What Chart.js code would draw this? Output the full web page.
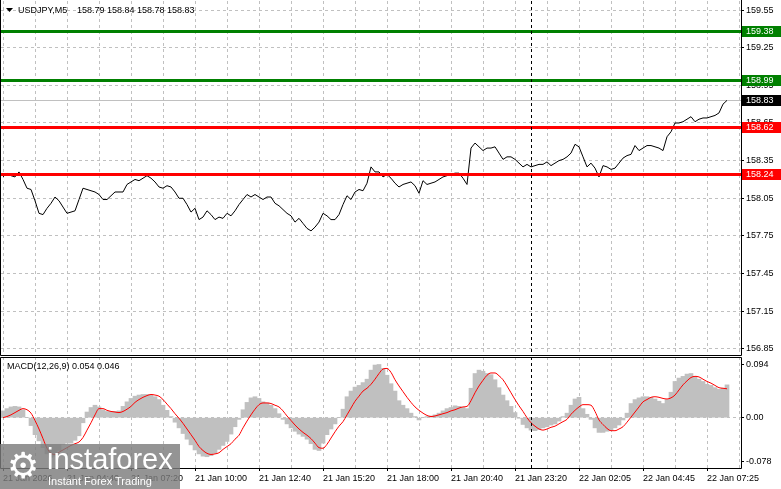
<!DOCTYPE html>
<html>
<head>
<meta charset="utf-8">
<title>USDJPY M5</title>
<script src="https://cdn.jsdelivr.net/npm/chart.js@4.4.1/dist/chart.umd.min.js"></script>
<style>
    body { margin: 0; background: #fff; }
    #wrap { position: relative; width: 781px; height: 489px; overflow: hidden; background: #fff; }
    canvas { position: absolute; left: 0; }
    #priceChart { top: 0; }
    #macdChart { top: 356px; }
    #logo {
        position: absolute; left: 0; top: 444px; width: 180px; height: 45px;
        background: rgba(125, 125, 125, 0.82); color: #fff;
        font-family: 'Liberation Sans', sans-serif;
    }
    #logo .gear { position: absolute; left: 7px; top: 0px; font: 36px 'DejaVu Sans', sans-serif; line-height: 44px; }
    #logo .name { position: absolute; left: 47px; top: 0px; font-size: 29px; line-height: 30px; }
    #logo .slogan { position: absolute; left: 48px; top: 31px; font-size: 11px; line-height: 12px; }
</style>
</head>
<body>
<div id="wrap">
    <canvas id="priceChart" width="781" height="356"></canvas>
    <canvas id="macdChart" width="781" height="133"></canvas>
    <div id="logo"><span class="gear">⚙</span><span class="name">instaforex</span><span class="slogan">Instant Forex Trading</span></div>
</div>
<script>
// one value per 10 minutes, starting 21 Jan 02:00
const closes = [
    158.22, 158.25, 158.23, 158.22, 158.26, 158.20, 158.13, 158.12, 158.03, 157.93,
    157.92, 157.97, 158.01, 158.06, 158.03, 157.98, 157.93, 157.94, 157.95, 158.04,
    158.13, 158.12, 158.11, 158.10, 158.08, 158.04, 158.04, 158.07, 158.10, 158.10,
    158.10, 158.16, 158.18, 158.20, 158.19, 158.21, 158.23, 158.21, 158.18, 158.14,
    158.13, 158.15, 158.14, 158.10, 158.05, 158.05, 158.00, 157.94, 157.97, 157.88,
    157.90, 157.95, 157.92, 157.88, 157.90, 157.89, 157.93, 157.91, 157.95, 158.00,
    158.04, 158.08, 158.06, 158.08, 158.06, 158.04, 158.06, 158.06, 158.01, 157.99,
    157.96, 157.93, 157.91, 157.86, 157.89, 157.85, 157.81, 157.79, 157.82, 157.86,
    157.93, 157.91, 157.88, 157.88, 157.92, 158.00, 158.07, 158.04, 158.10, 158.12,
    158.11, 158.17, 158.30, 158.26, 158.26, 158.22, 158.24, 158.21, 158.17, 158.14,
    158.16, 158.17, 158.18, 158.15, 158.09, 158.19, 158.16, 158.17, 158.18, 158.20,
    158.22, 158.23, 158.24, 158.25, 158.25, 158.21, 158.16, 158.45, 158.49, 158.46,
    158.43, 158.45, 158.45, 158.46, 158.41, 158.36, 158.38, 158.38, 158.36, 158.33,
    158.30, 158.32, 158.30, 158.31, 158.32, 158.32, 158.34, 158.31, 158.33, 158.35,
    158.36, 158.38, 158.41, 158.48, 158.46, 158.38, 158.30, 158.33, 158.29, 158.22,
    158.31, 158.30, 158.28, 158.29, 158.33, 158.37, 158.39, 158.40, 158.47, 158.43,
    158.45, 158.47, 158.47, 158.46, 158.45, 158.43, 158.54, 158.58, 158.65, 158.65,
    158.66, 158.68, 158.70, 158.66, 158.68, 158.69, 158.69, 158.70, 158.71, 158.73,
    158.80, 158.83
];

const macdHist = [
    0.012, 0.016, 0.019, 0.020, 0.019, 0.014, 0.000, -0.014, -0.030, -0.041,
    -0.053, -0.064, -0.070, -0.068, -0.058, -0.047, -0.045, -0.045, -0.040, -0.032,
    -0.009, 0.010, 0.018, 0.022, 0.019, 0.014, 0.011, 0.011, 0.011, 0.012,
    0.020, 0.028, 0.034, 0.038, 0.040, 0.041, 0.041, 0.040, 0.037, 0.032,
    0.022, 0.013, 0.002, -0.008, -0.018, -0.028, -0.038, -0.048, -0.057, -0.064,
    -0.068, -0.069, -0.067, -0.063, -0.056, -0.049, -0.042, -0.029, -0.016, -0.003,
    0.014, 0.027, 0.035, 0.037, 0.034, 0.028, 0.026, 0.022, 0.016, 0.007,
    -0.003, -0.011, -0.018, -0.024, -0.029, -0.033, -0.038, -0.046, -0.056, -0.058,
    -0.045, -0.030, -0.020, -0.011, 0.000, 0.015, 0.037, 0.047, 0.054, 0.057,
    0.062, 0.068, 0.084, 0.093, 0.094, 0.087, 0.075, 0.060, 0.047, 0.030,
    0.022, 0.016, 0.008, 0.002, -0.004, 0.000, 0.002, 0.003, 0.005, 0.008,
    0.012, 0.016, 0.018, 0.021, 0.020, 0.018, 0.016, 0.052, 0.078, 0.084,
    0.082, 0.078, 0.076, 0.067, 0.053, 0.040, 0.030, 0.020, 0.009, -0.001,
    -0.012, -0.018, -0.022, -0.023, -0.021, -0.018, -0.016, -0.013, -0.011, -0.006,
    0.002, 0.008, 0.022, 0.033, 0.036, 0.016, 0.006, -0.003, -0.018, -0.026,
    -0.026, -0.024, -0.022, -0.018, -0.013, -0.004, 0.008, 0.025, 0.032, 0.035,
    0.037, 0.037, 0.036, 0.033, 0.029, 0.025, 0.032, 0.045, 0.064, 0.070,
    0.073, 0.077, 0.078, 0.073, 0.068, 0.064, 0.059, 0.057, 0.053, 0.050,
    0.052, 0.058
];

const macdSignal = [
    0.000, 0.002, 0.005, 0.009, 0.013, 0.016, 0.014, 0.008, -0.005, -0.020,
    -0.037, -0.054, -0.063, -0.065, -0.061, -0.057, -0.053, -0.049, -0.046, -0.043,
    -0.035, -0.022, -0.009, 0.005, 0.016, 0.016, 0.013, 0.011, 0.010, 0.009,
    0.011, 0.015, 0.020, 0.027, 0.032, 0.036, 0.039, 0.041, 0.040, 0.038,
    0.032, 0.024, 0.016, 0.007, -0.001, -0.010, -0.020, -0.030, -0.040, -0.051,
    -0.058, -0.063, -0.065, -0.064, -0.062, -0.056, -0.051, -0.046, -0.038, -0.031,
    -0.018, -0.006, 0.005, 0.015, 0.023, 0.026, 0.026, 0.025, 0.022, 0.019,
    0.012, 0.003, -0.005, -0.013, -0.020, -0.026, -0.031, -0.037, -0.045, -0.053,
    -0.054, -0.047, -0.036, -0.025, -0.015, -0.007, 0.005, 0.017, 0.029, 0.038,
    0.047, 0.052, 0.059, 0.068, 0.078, 0.086, 0.087, 0.080, 0.067, 0.056,
    0.046, 0.036, 0.027, 0.019, 0.013, 0.008, 0.004, 0.002, 0.003, 0.005,
    0.007, 0.009, 0.012, 0.014, 0.017, 0.019, 0.020, 0.030, 0.044, 0.056,
    0.066, 0.075, 0.079, 0.079, 0.074, 0.067, 0.056, 0.044, 0.032, 0.021,
    0.011, 0.000, -0.009, -0.015, -0.020, -0.022, -0.020, -0.017, -0.015, -0.011,
    -0.007, -0.003, 0.006, 0.013, 0.019, 0.023, 0.023, 0.022, 0.011, -0.004,
    -0.012, -0.019, -0.023, -0.023, -0.020, -0.016, -0.008, 0.001, 0.010, 0.019,
    0.028, 0.032, 0.036, 0.037, 0.036, 0.034, 0.033, 0.035, 0.040, 0.049,
    0.058, 0.065, 0.071, 0.073, 0.072, 0.068, 0.064, 0.061, 0.057, 0.053,
    0.052, 0.051
];

const timeLabels = [
    '21 Jan 2026', '21 Jan 04:40', '21 Jan 07:20', '21 Jan 10:00', '21 Jan 12:40', '21 Jan 15:20',
    '21 Jan 18:00', '21 Jan 20:40', '21 Jan 23:20', '22 Jan 02:05', '22 Jan 04:45', '22 Jan 07:25'
];
const priceTicks = [159.55, 159.25, 158.95, 158.65, 158.35, 158.05, 157.75, 157.45, 157.15, 156.85];
const macdTicks = [0.094, 0, -0.078];
const greenLevels = [159.38, 158.99];
const redLevels = [158.62, 158.24];
const bidPrice = 158.83;
const dayBreak = 132; // 22 Jan 00:00
const header = ['USDJPY,M5', '158.79 158.84 158.78 158.83'];
const macdTitle = 'MACD(12,26,9) 0.054 0.046';

const FONT = '9px "Liberation Sans", Arial, sans-serif';
const GRID = '#c0c0c0';
const X_MIN = -0.5;
const X_MAX = 184.5;

Chart.defaults.font.family = '"Liberation Sans", Arial, sans-serif';
Chart.defaults.font.size = 9;
Chart.defaults.color = '#000';

// keep chart areas identical in both canvases: no label overhang padding
function noPadding(scale) {
    scale.paddingTop = 0;
    scale.paddingBottom = 0;
    scale.paddingLeft = 0;
    scale.paddingRight = 0;
}

function drawTag(ctx, y, text, fill) {
    const yy = Math.round(y);
    ctx.fillStyle = fill;
    ctx.fillRect(742, yy - 5, 39, 11);
    ctx.fillStyle = '#fff';
    ctx.font = FONT;
    ctx.textAlign = 'left';
    ctx.textBaseline = 'middle';
    ctx.fillText(text, 746, yy + 0.5);
}

function drawDayBreak(chart) {
    const ctx = chart.ctx;
    const area = chart.chartArea;
    const x = Math.round(chart.scales.x.getPixelForValue(dayBreak)) + 0.5;
    ctx.save();
    ctx.strokeStyle = '#000';
    ctx.lineWidth = 1;
    ctx.setLineDash([3, 3]);
    ctx.beginPath();
    ctx.moveTo(x, area.top);
    ctx.lineTo(x, area.bottom);
    ctx.stroke();
    ctx.restore();
}

function drawFrame(chart, withTop) {
    const ctx = chart.ctx;
    const a = chart.chartArea;
    ctx.save();
    ctx.strokeStyle = '#000';
    ctx.lineWidth = 1;
    ctx.beginPath();
    ctx.moveTo(0.5, withTop ? a.top + 0.5 : 0);
    ctx.lineTo(0.5, a.bottom + 0.5);
    ctx.lineTo(a.right + 0.5, a.bottom + 0.5);
    ctx.lineTo(a.right + 0.5, withTop ? a.top + 0.5 : 0);
    if (withTop) ctx.closePath();
    ctx.stroke();
    ctx.restore();
}

const pricePlugin = {
    id: 'priceExtras',
    beforeDatasetsDraw(chart) {
        const ctx = chart.ctx;
        const a = chart.chartArea;
        const y = Math.round(chart.scales.y.getPixelForValue(bidPrice)) + 0.5;
        ctx.save();
        ctx.strokeStyle = '#c0c0c0';
        ctx.lineWidth = 1;
        ctx.beginPath();
        ctx.moveTo(a.left, y);
        ctx.lineTo(a.right, y);
        ctx.stroke();
        ctx.restore();
    },
    afterDatasetsDraw(chart) {
        const ctx = chart.ctx;
        const a = chart.chartArea;
        const yScale = chart.scales.y;
        ctx.save();
        greenLevels.forEach(v => {
            ctx.fillStyle = '#008000';
            ctx.fillRect(a.left, Math.round(yScale.getPixelForValue(v)) - 1, a.right - a.left, 3);
        });
        redLevels.forEach(v => {
            ctx.fillStyle = '#ff0000';
            ctx.fillRect(a.left, Math.round(yScale.getPixelForValue(v)) - 1, a.right - a.left, 3);
        });
        ctx.restore();
        drawDayBreak(chart);
    },
    afterDraw(chart) {
        const ctx = chart.ctx;
        const yScale = chart.scales.y;
        ctx.save();
        greenLevels.forEach(v => drawTag(ctx, yScale.getPixelForValue(v), v.toFixed(2), '#008000'));
        redLevels.forEach(v => drawTag(ctx, yScale.getPixelForValue(v), v.toFixed(2), '#ff0000'));
        drawTag(ctx, yScale.getPixelForValue(bidPrice), bidPrice.toFixed(2), '#000');

        // symbol header
        ctx.fillStyle = '#000';
        ctx.beginPath();
        ctx.moveTo(6, 8);
        ctx.lineTo(13, 8);
        ctx.lineTo(9.5, 12);
        ctx.closePath();
        ctx.fill();
        ctx.font = FONT;
        ctx.textAlign = 'left';
        ctx.textBaseline = 'middle';
        ctx.fillText(header[0], 18, 11);
        ctx.fillText(header[1], 77, 11);
        ctx.restore();
        drawFrame(chart, false);
    }
};

const macdPlugin = {
    id: 'macdExtras',
    afterDatasetsDraw(chart) {
        drawDayBreak(chart);
    },
    afterDraw(chart) {
        const ctx = chart.ctx;
        ctx.save();
        ctx.fillStyle = '#000';
        ctx.font = FONT;
        ctx.textAlign = 'left';
        ctx.textBaseline = 'middle';
        ctx.fillText(macdTitle, 7, 11);
        ctx.restore();
        drawFrame(chart, true);
    }
};

function xScaleOptions(showLabels) {
    return {
        type: 'linear',
        min: X_MIN,
        max: X_MAX,
        offset: false,
        afterBuildTicks: scale => {
            const t = [];
            for (let i = 0; i < timeLabels.length * 16; i += 8) t.push({ value: i });
            scale.ticks = t;
        },
        afterFit: scale => {
            scale.height = showLabels ? 21 : 0;
            noPadding(scale);
        },
        border: { display: false, dash: [3, 3] },
        grid: {
            offset: false,
            color: GRID,
            lineWidth: 1,
            drawTicks: showLabels,
            tickLength: 3,
            tickBorderDash: [],
            tickColor: ctx => (ctx.tick && ctx.tick.value % 16 === 0) ? '#000' : 'rgba(0,0,0,0)'
        },
        ticks: {
            display: showLabels,
            autoSkip: false,
            maxRotation: 0,
            align: 'start',
            padding: 2,
            font: { size: 9 },
            callback: v => (v % 16 === 0) ? timeLabels[v / 16] : ''
        }
    };
}

function initCharts() {
    const priceCtx = document.getElementById('priceChart').getContext('2d');
    const macdCtx = document.getElementById('macdChart').getContext('2d');

    new Chart(priceCtx, {
        type: 'line',
        data: {
            datasets: [{
                data: closes.map((v, i) => ({ x: i, y: v })),
                borderColor: '#000',
                borderWidth: 1,
                pointRadius: 0,
                tension: 0
            }]
        },
        options: {
            responsive: false,
            animation: false,
            events: [],
            layout: { padding: { left: 1, top: 1, right: 0, bottom: 1 } },
            plugins: { legend: { display: false }, tooltip: { enabled: false } },
            scales: {
                x: xScaleOptions(false),
                y: {
                    position: 'right',
                    min: 156.801,
                    max: 159.622,
                    afterBuildTicks: scale => { scale.ticks = priceTicks.map(v => ({ value: v })); },
                    afterFit: scale => {
                        scale.width = 40;
                        noPadding(scale);
                    },
                    border: { display: false, dash: [3, 3] },
                    grid: { color: GRID, tickLength: 3, tickColor: '#000', tickBorderDash: [] },
                    ticks: { padding: 2, autoSkip: false, callback: v => v.toFixed(2) }
                }
            }
        },
        plugins: [pricePlugin]
    });

    new Chart(macdCtx, {
        type: 'bar',
        data: {
            datasets: [{
                type: 'line',
                data: macdSignal.map((v, i) => ({ x: i, y: v })),
                borderColor: '#ff0000',
                borderWidth: 1,
                pointRadius: 0,
                cubicInterpolationMode: 'monotone',
                order: 1
            }, {
                type: 'bar',
                data: macdHist.map((v, i) => ({ x: i, y: v })),
                backgroundColor: '#c0c0c0',
                borderWidth: 0,
                barPercentage: 1,
                categoryPercentage: 1,
                order: 2
            }]
        },
        options: {
            responsive: false,
            animation: false,
            events: [],
            layout: { padding: { left: 1, top: 1, right: 0, bottom: 0 } },
            plugins: { legend: { display: false }, tooltip: { enabled: false } },
            scales: {
                x: xScaleOptions(true),
                y: {
                    position: 'right',
                    min: -0.0889,
                    max: 0.1072,
                    afterBuildTicks: scale => { scale.ticks = macdTicks.map(v => ({ value: v })); },
                    afterFit: scale => {
                        scale.width = 40;
                        noPadding(scale);
                    },
                    border: { display: false, dash: [3, 3] },
                    grid: {
                        color: ctx => (ctx.tick && ctx.tick.value === 0) ? GRID : 'rgba(0,0,0,0)',
                        tickLength: 3,
                        tickColor: '#000',
                        tickBorderDash: []
                    },
                    ticks: {
                        padding: 2,
                        autoSkip: false,
                        callback: v => v === 0 ? '0.00' : v.toFixed(3)
                    }
                }
            }
        },
        plugins: [macdPlugin]
    });
}

document.addEventListener('DOMContentLoaded', initCharts);
</script>
</body>
</html>
